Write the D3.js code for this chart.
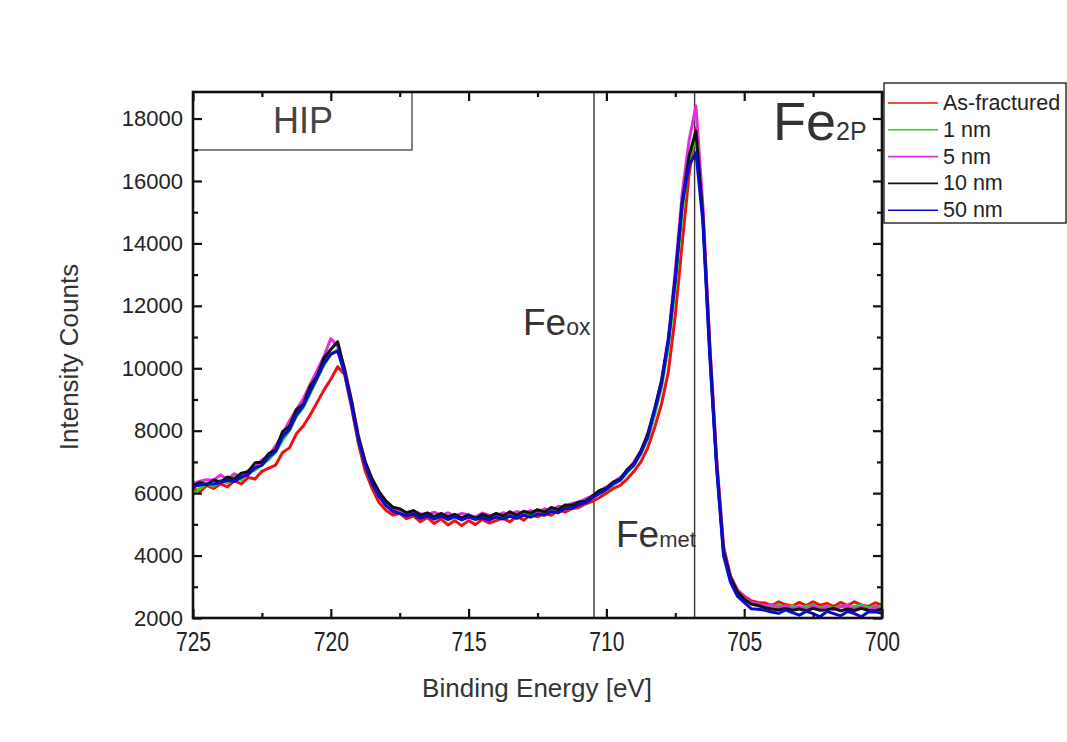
<!DOCTYPE html>
<html>
<head>
<meta charset="utf-8">
<script src="https://cdn.jsdelivr.net/npm/d3@7/dist/d3.min.js"></script>
<style>
  body { margin: 0; background: #fff; }
  svg { font-family: Arial, "Liberation Sans", Helvetica, sans-serif; }
</style>
</head>
<body>
<svg id="chart" width="1067" height="742"></svg>
<script>
// binding energy grid, 0.25 eV step from 725 down to 700
const energy = d3.range(0, 101).map(i => 725 - i * 0.25);

const seriesNames = ['As-fractured', '1 nm', '5 nm', '10 nm', '50 nm'];
const seriesColors = ['#f01010', '#18d818', '#e030e0', '#111111', '#0a0ad0'];

const asFractured = [
  6150, 6050, 6250, 6150, 6300, 6200, 6400, 6300, 6500, 6450,
  6700, 6800, 6900, 7300, 7450, 7900, 8150, 8500, 8900, 9300,
  9650, 10050, 9800, 8750, 7600, 6700, 6150, 5700, 5450, 5300,
  5350, 5180, 5270, 5080, 5220, 5030, 5170, 4980, 5120, 4960,
  5120, 4990, 5160, 5040, 5120, 5200, 5080, 5260, 5130, 5310,
  5240, 5360, 5290, 5460, 5390, 5510, 5540, 5660, 5740, 5860,
  6000, 6150, 6250, 6450, 6700, 7000, 7450, 8100, 8850, 9900,
  11700, 14000, 16200, 17700, 15000, 10800, 7100, 4300, 3350, 2900,
  2700, 2550, 2500, 2480, 2400, 2520, 2430, 2380, 2500, 2400,
  2520, 2410, 2470, 2370, 2500, 2400, 2520, 2420, 2370, 2490, 2410
];
const nm1 = [
  5950, 6150, 6300, 6220, 6420, 6330, 6520, 6430, 6670, 6740,
  6920, 7080, 7320, 7700, 8000, 8450, 8750, 9200, 9650, 10100,
  10450, 10600, 9850, 8850, 7700, 6900, 6300, 5900, 5600, 5450,
  5400, 5300, 5350, 5240, 5320, 5190, 5290, 5140, 5260, 5190,
  5260, 5140, 5260, 5190, 5290, 5210, 5310, 5240, 5360, 5290,
  5410, 5370, 5460, 5490, 5560, 5590, 5690, 5740, 5860, 5990,
  6100, 6280, 6400, 6650, 6900, 7250, 7750, 8500, 9400, 10700,
  12600, 15000, 16700, 17400, 14800, 10500, 6900, 4100, 3250, 2800,
  2600, 2480, 2420, 2380, 2340, 2410, 2320, 2390, 2310, 2370,
  2410, 2320, 2380, 2310, 2390, 2330, 2370, 2410, 2320, 2380, 2350
];
const nm5 = [
  6300, 6380, 6430, 6420, 6580, 6440, 6620, 6530, 6720, 6830,
  7070, 7180, 7520, 7880, 8320, 8680, 9020, 9480, 9920, 10380,
  10950, 10700, 10000, 9000, 7850, 7000, 6400, 5950, 5650, 5500,
  5460, 5370, 5420, 5340, 5310, 5390, 5290, 5370, 5270, 5350,
  5300, 5240, 5360, 5290, 5270, 5370, 5310, 5410, 5340, 5440,
  5390, 5500, 5440, 5570, 5570, 5670, 5710, 5820, 5910, 6070,
  6200, 6350, 6500, 6700, 7000, 7350, 7850, 8650, 9600, 11000,
  13100, 15600, 17300, 18400, 15200, 10700, 7000, 4200, 3350, 2900,
  2650, 2500, 2450, 2380, 2430, 2320, 2390, 2290, 2360, 2270,
  2390, 2290, 2350, 2270, 2360, 2410, 2290, 2360, 2270, 2340, 2300
];
const nm10 = [
  6250, 6340, 6270, 6420, 6350, 6520, 6440, 6640, 6690, 6970,
  6990, 7270, 7390, 7970, 8140, 8670, 8840, 9420, 9740, 10320,
  10600, 10850, 9950, 8950, 7800, 7000, 6450, 6050, 5750, 5550,
  5500, 5370, 5440, 5290, 5370, 5250, 5350, 5240, 5320, 5210,
  5300, 5190, 5320, 5240, 5350, 5270, 5400, 5290, 5420, 5350,
  5470, 5390, 5540, 5470, 5620, 5610, 5720, 5740, 5920, 6090,
  6150, 6350, 6450, 6750, 6950, 7350, 7900, 8700, 9600, 10900,
  12900, 15300, 16800, 17600, 14900, 10600, 6900, 4150, 3300, 2850,
  2600, 2450, 2400, 2330, 2290, 2260, 2310, 2250, 2290, 2230,
  2310, 2250, 2260, 2310, 2230, 2290, 2240, 2310, 2250, 2230, 2280
];
const nm50 = [
  6200, 6260, 6290, 6290, 6340, 6410, 6370, 6510, 6590, 6810,
  6890, 7160, 7340, 7810, 8040, 8510, 8790, 9260, 9690, 10160,
  10450, 10550, 9850, 8850, 7700, 6900, 6300, 5900, 5600, 5420,
  5350, 5270, 5330, 5190, 5270, 5170, 5260, 5160, 5240, 5140,
  5230, 5160, 5210, 5140, 5230, 5170, 5260, 5190, 5290, 5230,
  5330, 5290, 5410, 5370, 5510, 5510, 5630, 5690, 5860, 5990,
  6120, 6300, 6420, 6700, 6900, 7300, 7800, 8650, 9500, 10900,
  12900, 15300, 16500, 16900, 14700, 10400, 6800, 4000, 3150, 2700,
  2500, 2300, 2280, 2250, 2190, 2150, 2260, 2170, 2090, 2210,
  2140, 2040, 2210, 2140, 2070, 2210, 2140, 2040, 2190, 2200, 2150
];

const xTicks = [725, 720, 715, 710, 705, 700];
const xMinorTicks = [722.5, 717.5, 712.5, 707.5, 702.5];
const yTicks = [2000, 4000, 6000, 8000, 10000, 12000, 14000, 16000, 18000];
const yMinorTicks = [3000, 5000, 7000, 9000, 11000, 13000, 15000, 17000];

// reference energies for Fe oxide / Fe metal
const markerNames = ['ox', 'met'];
const markerEnergies = [710.45, 706.8];

const viz = () => {
  const svg = d3.select('#chart');
  const left = 193, right = 882, top = 92, bottom = 618;

  const x = d3.scaleLinear().domain([725, 700]).range([left, right]);
  const y = d3.scaleLinear().domain([2000, 18850]).range([bottom, top]);

  const series = [asFractured, nm1, nm5, nm10, nm50];

  // reference lines
  svg.selectAll('line.marker')
    .data(markerEnergies)
    .enter()
    .append('line')
      .attr('class', 'marker')
      .attr('x1', d => x(d))
      .attr('x2', d => x(d))
      .attr('y1', top)
      .attr('y2', bottom)
      .style('stroke', '#333')
      .style('stroke-width', 1.4);

  // HIP box
  svg.append('rect')
    .attr('x', left)
    .attr('y', top)
    .attr('width', 219)
    .attr('height', 58)
    .style('fill', 'none')
    .style('stroke', '#333')
    .style('stroke-width', 1.2);

  svg.append('text')
    .attr('x', 303)
    .attr('y', 133)
    .style('text-anchor', 'middle')
    .style('font-size', '36px')
    .style('fill', '#444')
    .text('HIP');

  const line = d3.line()
    .x((d, i) => x(energy[i]))
    .y(d => y(d));

  svg.append('g')
    .selectAll('path')
    .data(series)
    .enter()
    .append('path')
      .attr('d', line)
      .style('fill', 'none')
      .style('stroke', (d, i) => seriesColors[i])
      .style('stroke-width', 3)
      .style('stroke-linejoin', 'round');

  // ticks pointing inward on all four sides
  const ticks = (axisFn, scale, values, size) =>
    axisFn(scale).tickValues(values).tickSize(-size).tickFormat('');

  const addTicks = (axis, transform) => {
    const g = svg.append('g').attr('transform', transform).call(axis);
    g.select('.domain').remove();
    g.selectAll('line').style('stroke', '#111').style('stroke-width', 2.2);
  };

  addTicks(ticks(d3.axisBottom, x, xTicks, 9), `translate(0,${bottom})`);
  addTicks(ticks(d3.axisBottom, x, xMinorTicks, 5), `translate(0,${bottom})`);
  addTicks(ticks(d3.axisTop, x, xTicks, 9), `translate(0,${top})`);
  addTicks(ticks(d3.axisTop, x, xMinorTicks, 5), `translate(0,${top})`);
  addTicks(ticks(d3.axisLeft, y, yTicks, 9), `translate(${left},0)`);
  addTicks(ticks(d3.axisLeft, y, yMinorTicks, 5), `translate(${left},0)`);
  addTicks(ticks(d3.axisRight, y, yTicks, 9), `translate(${right},0)`);
  addTicks(ticks(d3.axisRight, y, yMinorTicks, 5), `translate(${right},0)`);

  // tick labels
  const xLabels = svg.append('g')
    .attr('transform', `translate(0,${bottom})`)
    .call(d3.axisBottom(x).tickValues(xTicks).tickSize(0).tickPadding(14).tickFormat(d3.format('d')));
  xLabels.select('.domain').remove();
  xLabels.selectAll('text')
    .attr('transform', 'scale(0.78,1)')
    .style('font-family', 'Arial, "Liberation Sans", sans-serif')
    .style('font-size', '27px')
    .style('fill', '#222');

  const yLabels = svg.append('g')
    .attr('transform', `translate(${left},0)`)
    .call(d3.axisLeft(y).tickValues(yTicks).tickSize(0).tickPadding(10).tickFormat(d3.format('d')));
  yLabels.select('.domain').remove();
  yLabels.selectAll('text')
    .style('font-family', 'Arial, "Liberation Sans", sans-serif')
    .style('font-size', '22px')
    .style('fill', '#222');

  // frame
  svg.append('rect')
    .attr('x', left)
    .attr('y', top)
    .attr('width', right - left)
    .attr('height', bottom - top)
    .style('fill', 'none')
    .style('stroke', '#111')
    .style('stroke-width', 2.6);

  // axis titles
  svg.append('text')
    .attr('transform', 'translate(78,357) rotate(-90)')
    .style('text-anchor', 'middle')
    .style('font-size', '26px')
    .style('fill', '#333')
    .text('Intensity Counts');

  svg.append('text')
    .attr('x', 537)
    .attr('y', 697)
    .style('text-anchor', 'middle')
    .style('font-size', '26px')
    .style('fill', '#333')
    .text('Binding Energy [eV]');

  // Fe labels
  const feLabel = (xPos, yPos, big, small, sub) => {
    const t = svg.append('text')
      .attr('x', xPos)
      .attr('y', yPos)
      .style('fill', '#333');
    t.append('tspan').style('font-size', big + 'px').text('Fe');
    t.append('tspan').style('font-size', small + 'px').text(sub);
  };
  feLabel(773, 140, 54, 25, '2P');
  feLabel(523, 335, 37, 23, markerNames[0]);
  feLabel(616, 547, 37, 22, markerNames[1]);

  // legend
  const legend = svg.append('g');
  legend.append('rect')
    .attr('x', 884)
    .attr('y', 83)
    .attr('width', 182)
    .attr('height', 140)
    .style('fill', '#fff')
    .style('stroke', '#222')
    .style('stroke-width', 1.4);

  const items = legend.selectAll('g.item')
    .data(seriesNames)
    .enter()
    .append('g')
      .attr('class', 'item')
      .attr('transform', (d, i) => `translate(0,${103 + i * 26.8})`);

  items.append('line')
    .attr('x1', 888)
    .attr('x2', 938)
    .style('stroke', (d, i) => seriesColors[i])
    .style('stroke-width', 1.6);

  items.append('text')
    .attr('x', 943)
    .attr('y', 7)
    .style('font-size', '21.5px')
    .style('fill', '#222')
    .text(d => d);
};

viz();
</script>
</body>
</html>
